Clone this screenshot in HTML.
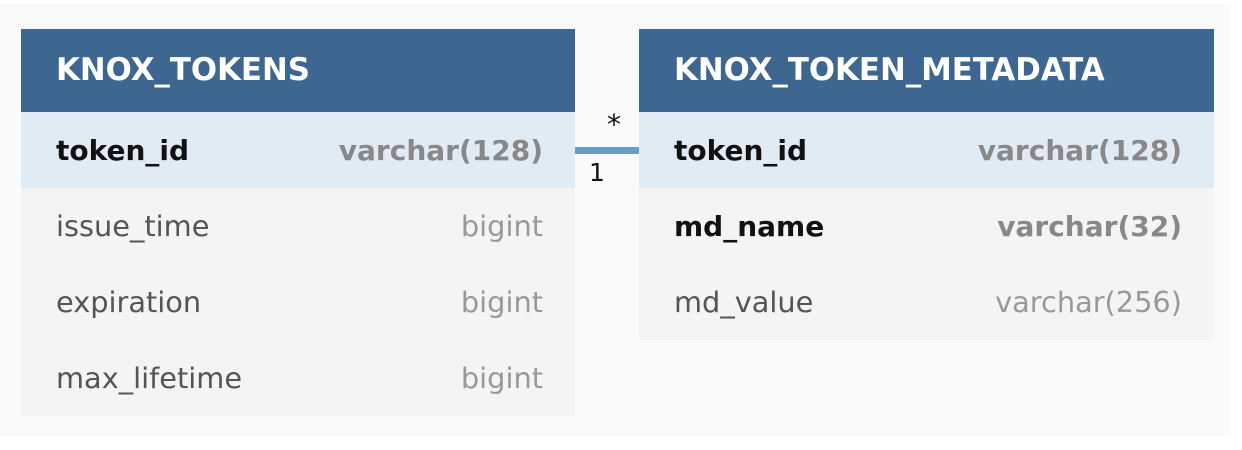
<!DOCTYPE html>
<html><head><meta charset="utf-8"><style>
body{margin:0;width:1242px;height:450px;background:#fff;position:relative;overflow:hidden;font-family:"DejaVu Sans","Liberation Sans",sans-serif}
.bg{position:absolute;left:0;top:4px;width:1230px;height:432px;background:#fafafa}
.t{position:absolute;top:29px}
.h{height:83px;background:#3d6690;color:#fff;font-weight:bold;font-size:30.8px;line-height:83px;padding-left:35px;box-sizing:border-box}
.r{height:76px;background:#f4f4f4;display:flex;justify-content:space-between;align-items:center;padding:0 32px 0 35px;box-sizing:border-box;font-size:28.8px;color:#555}
.r .ty{color:#999}
.r.k{background:#e1ebf3;color:#111;font-weight:bold;font-size:28px}
.r.k .ty{color:#888}
.r.b{color:#111;font-weight:bold;font-size:28px}
.r.b .ty{color:#888}
</style></head><body>
<div class="bg"></div>
<div class="t" style="left:21px;width:554px">
<div class="h">KNOX_TOKENS</div>
<div class="r k"><span>token_id</span><span class="ty">varchar(128)</span></div>
<div class="r"><span>issue_time</span><span class="ty">bigint</span></div>
<div class="r"><span>expiration</span><span class="ty">bigint</span></div>
<div class="r"><span>max_lifetime</span><span class="ty">bigint</span></div>
</div>
<div class="t" style="left:639px;width:575px">
<div class="h">KNOX_TOKEN_METADATA</div>
<div class="r k"><span>token_id</span><span class="ty">varchar(128)</span></div>
<div class="r b"><span>md_name</span><span class="ty">varchar(32)</span></div>
<div class="r"><span>md_value</span><span class="ty">varchar(256)</span></div>
</div>
<div style="position:absolute;left:575px;top:147px;width:64px;height:7px;background:#6b9bc6"></div>
<div style="position:absolute;left:607px;top:108px;font-size:28px;color:#111">*</div>
<div style="position:absolute;left:589px;top:158px;font-size:25px;color:#111">1</div>
</body></html>
